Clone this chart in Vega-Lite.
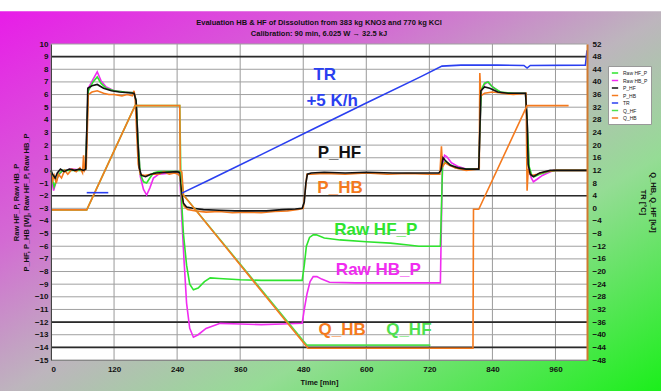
{
"$schema": "https://vega.github.io/schema/vega-lite/v6.json",
"width": 536, "height": 316,
"autosize": {"type": "none"},
"padding": {"left": 51, "top": 44, "right": 74, "bottom": 31},
"background": "white",
"config": {
  "view": {"stroke": null},
  "font": "Liberation Sans",
  "axis": {"grid": false, "ticks": false, "labelOverlap": false, "labelFont": "Liberation Sans", "labelFontWeight": "bold", "labelColor": "#111", "labelFontSize": 8, "titleFont": "Liberation Sans", "titleFontWeight": "bold", "titleFontSize": 7.5, "titleColor": "#111", "domainColor": "#555"}
},
"title": {"text": ["Evaluation HB & HF of Dissolution from 383 kg KNO3 and 770 kg KCl", "Calibration: 90 min, 6.025 W \u2192 32.5 kJ"], "fontSize": 7.5, "fontWeight": "bold", "font": "Liberation Sans", "color": "#111", "offset": -26, "lineHeight": 11, "zindex": 1},
"datasets": {
  "gx": [{"t":0},{"t":120},{"t":240},{"t":360},{"t":480},{"t":600},{"t":720},{"t":840},{"t":960}],
  "gy": [{"v":-15},{"v":-14},{"v":-13},{"v":-12},{"v":-11},{"v":-10},{"v":-9},{"v":-8},{"v":-7},{"v":-6},{"v":-5},{"v":-4},{"v":-3},{"v":-2},{"v":-1},{"v":0},{"v":1},{"v":2},{"v":3},{"v":4},{"v":5},{"v":6},{"v":7},{"v":8},{"v":9},{"v":10}],
  "dark": [{"v":9},{"v":-2},{"v":-12},{"v":-14}],
  "left": [
    {"s":"Raw HB_P","t":0,"v":0},{"s":"Raw HB_P","t":2,"v":-0.9},{"s":"Raw HB_P","t":5,"v":-1.6},{"s":"Raw HB_P","t":9,"v":-1.0},{"s":"Raw HB_P","t":14,"v":-0.4},{"s":"Raw HB_P","t":22,"v":0},{"s":"Raw HB_P","t":40,"v":0.1},{"s":"Raw HB_P","t":60,"v":0},{"s":"Raw HB_P","t":66,"v":0.1},{"s":"Raw HB_P","t":68,"v":3},{"s":"Raw HB_P","t":71,"v":6.5},{"s":"Raw HB_P","t":80,"v":7.2},{"s":"Raw HB_P","t":88,"v":7.8},{"s":"Raw HB_P","t":95,"v":7.1},{"s":"Raw HB_P","t":105,"v":6.6},{"s":"Raw HB_P","t":120,"v":6.3},{"s":"Raw HB_P","t":140,"v":6.2},{"s":"Raw HB_P","t":158,"v":6.15},{"s":"Raw HB_P","t":162,"v":5.5},{"s":"Raw HB_P","t":166,"v":2},{"s":"Raw HB_P","t":170,"v":-0.5},{"s":"Raw HB_P","t":176,"v":-1.5},{"s":"Raw HB_P","t":182,"v":-1.95},{"s":"Raw HB_P","t":188,"v":-1.4},{"s":"Raw HB_P","t":195,"v":-0.6},{"s":"Raw HB_P","t":205,"v":-0.3},{"s":"Raw HB_P","t":230,"v":-0.2},{"s":"Raw HB_P","t":245,"v":-0.2},{"s":"Raw HB_P","t":248,"v":-3},{"s":"Raw HB_P","t":253,"v":-7},{"s":"Raw HB_P","t":258,"v":-10.5},{"s":"Raw HB_P","t":264,"v":-12.5},{"s":"Raw HB_P","t":271,"v":-13.2},{"s":"Raw HB_P","t":280,"v":-13.0},{"s":"Raw HB_P","t":295,"v":-12.5},{"s":"Raw HB_P","t":322,"v":-12.1},{"s":"Raw HB_P","t":360,"v":-12.15},{"s":"Raw HB_P","t":400,"v":-12.2},{"s":"Raw HB_P","t":440,"v":-12.15},{"s":"Raw HB_P","t":478,"v":-12.1},{"s":"Raw HB_P","t":482,"v":-11},{"s":"Raw HB_P","t":487,"v":-9.8},{"s":"Raw HB_P","t":493,"v":-8.8},{"s":"Raw HB_P","t":499,"v":-8.4},{"s":"Raw HB_P","t":506,"v":-8.4},{"s":"Raw HB_P","t":515,"v":-8.6},{"s":"Raw HB_P","t":530,"v":-8.85},{"s":"Raw HB_P","t":580,"v":-8.9},{"s":"Raw HB_P","t":640,"v":-8.9},{"s":"Raw HB_P","t":700,"v":-8.9},{"s":"Raw HB_P","t":741,"v":-8.9},{"s":"Raw HB_P","t":743,"v":-4},{"s":"Raw HB_P","t":745,"v":0.5},{"s":"Raw HB_P","t":749,"v":1.2},{"s":"Raw HB_P","t":753,"v":1.1},{"s":"Raw HB_P","t":762,"v":0.6},{"s":"Raw HB_P","t":775,"v":0.3},{"s":"Raw HB_P","t":790,"v":0.1},{"s":"Raw HB_P","t":814,"v":0.1},{"s":"Raw HB_P","t":816,"v":3},{"s":"Raw HB_P","t":819,"v":6.3},{"s":"Raw HB_P","t":825,"v":6.8},{"s":"Raw HB_P","t":830,"v":7.0},{"s":"Raw HB_P","t":838,"v":6.7},{"s":"Raw HB_P","t":850,"v":6.3},{"s":"Raw HB_P","t":860,"v":6.1},{"s":"Raw HB_P","t":903,"v":6.1},{"s":"Raw HB_P","t":906,"v":4},{"s":"Raw HB_P","t":910,"v":0},{"s":"Raw HB_P","t":914,"v":-0.6},{"s":"Raw HB_P","t":918,"v":-0.9},{"s":"Raw HB_P","t":925,"v":-0.7},{"s":"Raw HB_P","t":935,"v":-0.4},{"s":"Raw HB_P","t":945,"v":-0.2},{"s":"Raw HB_P","t":956,"v":0},{"s":"Raw HB_P","t":1020,"v":0},

    {"s":"Raw HF_P","t":0,"v":0},{"s":"Raw HF_P","t":3,"v":-0.8},{"s":"Raw HF_P","t":6,"v":-1.3},{"s":"Raw HF_P","t":10,"v":-0.8},{"s":"Raw HF_P","t":15,"v":-0.3},{"s":"Raw HF_P","t":22,"v":0},{"s":"Raw HF_P","t":60,"v":0},{"s":"Raw HF_P","t":66,"v":0.1},{"s":"Raw HF_P","t":68,"v":3},{"s":"Raw HF_P","t":71,"v":6.3},{"s":"Raw HF_P","t":80,"v":7.0},{"s":"Raw HF_P","t":88,"v":7.4},{"s":"Raw HF_P","t":95,"v":6.9},{"s":"Raw HF_P","t":105,"v":6.5},{"s":"Raw HF_P","t":120,"v":6.3},{"s":"Raw HF_P","t":140,"v":6.2},{"s":"Raw HF_P","t":158,"v":6.15},{"s":"Raw HF_P","t":162,"v":5.5},{"s":"Raw HF_P","t":166,"v":2},{"s":"Raw HF_P","t":170,"v":-0.3},{"s":"Raw HF_P","t":176,"v":-0.9},{"s":"Raw HF_P","t":182,"v":-1.0},{"s":"Raw HF_P","t":188,"v":-0.6},{"s":"Raw HF_P","t":195,"v":-0.2},{"s":"Raw HF_P","t":205,"v":-0.1},{"s":"Raw HF_P","t":245,"v":-0.1},{"s":"Raw HF_P","t":248,"v":-2},{"s":"Raw HF_P","t":252,"v":-5},{"s":"Raw HF_P","t":258,"v":-7.5},{"s":"Raw HF_P","t":264,"v":-9.0},{"s":"Raw HF_P","t":271,"v":-9.45},{"s":"Raw HF_P","t":280,"v":-9.3},{"s":"Raw HF_P","t":292,"v":-8.8},{"s":"Raw HF_P","t":303,"v":-8.5},{"s":"Raw HF_P","t":320,"v":-8.55},{"s":"Raw HF_P","t":360,"v":-8.65},{"s":"Raw HF_P","t":400,"v":-8.7},{"s":"Raw HF_P","t":478,"v":-8.7},{"s":"Raw HF_P","t":482,"v":-7.5},{"s":"Raw HF_P","t":486,"v":-6},{"s":"Raw HF_P","t":492,"v":-5.3},{"s":"Raw HF_P","t":499,"v":-5.1},{"s":"Raw HF_P","t":505,"v":-5.1},{"s":"Raw HF_P","t":520,"v":-5.35},{"s":"Raw HF_P","t":550,"v":-5.5},{"s":"Raw HF_P","t":600,"v":-5.65},{"s":"Raw HF_P","t":646,"v":-5.75},{"s":"Raw HF_P","t":680,"v":-5.9},{"s":"Raw HF_P","t":700,"v":-6.0},{"s":"Raw HF_P","t":741,"v":-6.0},{"s":"Raw HF_P","t":743,"v":-3},{"s":"Raw HF_P","t":745,"v":0.3},{"s":"Raw HF_P","t":750,"v":0.7},{"s":"Raw HF_P","t":758,"v":0.5},{"s":"Raw HF_P","t":770,"v":0.2},{"s":"Raw HF_P","t":790,"v":0.1},{"s":"Raw HF_P","t":814,"v":0.1},{"s":"Raw HF_P","t":816,"v":3},{"s":"Raw HF_P","t":819,"v":6.4},{"s":"Raw HF_P","t":825,"v":6.9},{"s":"Raw HF_P","t":832,"v":7.0},{"s":"Raw HF_P","t":840,"v":6.6},{"s":"Raw HF_P","t":855,"v":6.2},{"s":"Raw HF_P","t":880,"v":6.1},{"s":"Raw HF_P","t":903,"v":6.1},{"s":"Raw HF_P","t":906,"v":4},{"s":"Raw HF_P","t":910,"v":0.3},{"s":"Raw HF_P","t":915,"v":-0.4},{"s":"Raw HF_P","t":920,"v":-0.5},{"s":"Raw HF_P","t":930,"v":-0.3},{"s":"Raw HF_P","t":945,"v":-0.1},{"s":"Raw HF_P","t":960,"v":0},{"s":"Raw HF_P","t":1020,"v":0},

    {"s":"P_HB","t":0,"v":-0.2},{"s":"P_HB","t":3,"v":-0.8},{"s":"P_HB","t":6,"v":-0.4},{"s":"P_HB","t":10,"v":-1.0},{"s":"P_HB","t":14,"v":-0.3},{"s":"P_HB","t":20,"v":-0.6},{"s":"P_HB","t":26,"v":0},{"s":"P_HB","t":32,"v":-0.3},{"s":"P_HB","t":40,"v":0.1},{"s":"P_HB","t":48,"v":-0.1},{"s":"P_HB","t":55,"v":0.2},{"s":"P_HB","t":60,"v":-0.2},{"s":"P_HB","t":62,"v":1.2},{"s":"P_HB","t":64,"v":0},{"s":"P_HB","t":67,"v":0.2},{"s":"P_HB","t":69,"v":3},{"s":"P_HB","t":71,"v":6.0},{"s":"P_HB","t":78,"v":6.2},{"s":"P_HB","t":88,"v":6.3},{"s":"P_HB","t":100,"v":6.1},{"s":"P_HB","t":110,"v":6.0},{"s":"P_HB","t":120,"v":6.0},{"s":"P_HB","t":135,"v":5.9},{"s":"P_HB","t":145,"v":6.0},{"s":"P_HB","t":155,"v":5.9},{"s":"P_HB","t":158,"v":6.3},{"s":"P_HB","t":160,"v":5.8},{"s":"P_HB","t":163,"v":3},{"s":"P_HB","t":166,"v":0.5},{"s":"P_HB","t":170,"v":-0.3},{"s":"P_HB","t":178,"v":-0.4},{"s":"P_HB","t":190,"v":-0.3},{"s":"P_HB","t":205,"v":-0.3},{"s":"P_HB","t":215,"v":-0.1},{"s":"P_HB","t":225,"v":-0.3},{"s":"P_HB","t":235,"v":-0.2},{"s":"P_HB","t":242,"v":-0.3},{"s":"P_HB","t":246,"v":-0.5},{"s":"P_HB","t":249,"v":-2},{"s":"P_HB","t":253,"v":-2.8},{"s":"P_HB","t":260,"v":-3.1},{"s":"P_HB","t":275,"v":-3.2},{"s":"P_HB","t":295,"v":-3.3},{"s":"P_HB","t":320,"v":-3.25},{"s":"P_HB","t":345,"v":-3.35},{"s":"P_HB","t":370,"v":-3.3},{"s":"P_HB","t":400,"v":-3.35},{"s":"P_HB","t":425,"v":-3.25},{"s":"P_HB","t":450,"v":-3.2},{"s":"P_HB","t":470,"v":-3.1},{"s":"P_HB","t":480,"v":-3.0},{"s":"P_HB","t":484,"v":-1.5},{"s":"P_HB","t":487,"v":-0.3},{"s":"P_HB","t":495,"v":-0.3},{"s":"P_HB","t":520,"v":-0.25},{"s":"P_HB","t":560,"v":-0.3},{"s":"P_HB","t":600,"v":-0.2},{"s":"P_HB","t":640,"v":-0.3},{"s":"P_HB","t":680,"v":-0.25},{"s":"P_HB","t":720,"v":-0.3},{"s":"P_HB","t":740,"v":-0.3},{"s":"P_HB","t":743,"v":1.9},{"s":"P_HB","t":745,"v":0.3},{"s":"P_HB","t":750,"v":0.6},{"s":"P_HB","t":758,"v":0.4},{"s":"P_HB","t":770,"v":0.2},{"s":"P_HB","t":790,"v":0.0},{"s":"P_HB","t":810,"v":0.1},{"s":"P_HB","t":815,"v":0.2},{"s":"P_HB","t":816,"v":7.7},{"s":"P_HB","t":818,"v":5.9},{"s":"P_HB","t":825,"v":6.1},{"s":"P_HB","t":840,"v":6.2},{"s":"P_HB","t":860,"v":6.1},{"s":"P_HB","t":880,"v":6.0},{"s":"P_HB","t":904,"v":6.1},{"s":"P_HB","t":906,"v":-1.6},{"s":"P_HB","t":908,"v":0},{"s":"P_HB","t":914,"v":-0.4},{"s":"P_HB","t":925,"v":-0.3},{"s":"P_HB","t":940,"v":-0.1},{"s":"P_HB","t":960,"v":0},{"s":"P_HB","t":1020,"v":0},

    {"s":"P_HF","t":0,"v":0},{"s":"P_HF","t":3,"v":-0.3},{"s":"P_HF","t":8,"v":-0.6},{"s":"P_HF","t":12,"v":-0.2},{"s":"P_HF","t":18,"v":0.1},{"s":"P_HF","t":25,"v":-0.1},{"s":"P_HF","t":35,"v":0.1},{"s":"P_HF","t":45,"v":0},{"s":"P_HF","t":55,"v":0.1},{"s":"P_HF","t":62,"v":0},{"s":"P_HF","t":66,"v":0.1},{"s":"P_HF","t":68,"v":3},{"s":"P_HF","t":70,"v":6.5},{"s":"P_HF","t":78,"v":6.7},{"s":"P_HF","t":88,"v":6.8},{"s":"P_HF","t":100,"v":6.5},{"s":"P_HF","t":115,"v":6.3},{"s":"P_HF","t":130,"v":6.2},{"s":"P_HF","t":158,"v":6.1},{"s":"P_HF","t":162,"v":5.5},{"s":"P_HF","t":165,"v":2.5},{"s":"P_HF","t":168,"v":0.2},{"s":"P_HF","t":172,"v":-0.4},{"s":"P_HF","t":180,"v":-0.5},{"s":"P_HF","t":190,"v":-0.3},{"s":"P_HF","t":200,"v":-0.2},{"s":"P_HF","t":240,"v":-0.1},{"s":"P_HF","t":246,"v":-0.2},{"s":"P_HF","t":248,"v":-1.5},{"s":"P_HF","t":252,"v":-2.6},{"s":"P_HF","t":258,"v":-2.9},{"s":"P_HF","t":270,"v":-3.0},{"s":"P_HF","t":290,"v":-3.1},{"s":"P_HF","t":320,"v":-3.15},{"s":"P_HF","t":350,"v":-3.2},{"s":"P_HF","t":410,"v":-3.2},{"s":"P_HF","t":440,"v":-3.1},{"s":"P_HF","t":465,"v":-3.05},{"s":"P_HF","t":478,"v":-3.0},{"s":"P_HF","t":482,"v":-2.5},{"s":"P_HF","t":485,"v":-1.0},{"s":"P_HF","t":488,"v":-0.3},{"s":"P_HF","t":495,"v":-0.2},{"s":"P_HF","t":520,"v":-0.15},{"s":"P_HF","t":560,"v":-0.2},{"s":"P_HF","t":600,"v":-0.15},{"s":"P_HF","t":650,"v":-0.2},{"s":"P_HF","t":738,"v":-0.2},{"s":"P_HF","t":742,"v":0},{"s":"P_HF","t":746,"v":1.0},{"s":"P_HF","t":750,"v":0.8},{"s":"P_HF","t":760,"v":0.4},{"s":"P_HF","t":775,"v":0.2},{"s":"P_HF","t":790,"v":0.1},{"s":"P_HF","t":814,"v":0.1},{"s":"P_HF","t":816,"v":3},{"s":"P_HF","t":818,"v":6.3},{"s":"P_HF","t":825,"v":6.6},{"s":"P_HF","t":835,"v":6.5},{"s":"P_HF","t":850,"v":6.2},{"s":"P_HF","t":870,"v":6.1},{"s":"P_HF","t":903,"v":6.1},{"s":"P_HF","t":906,"v":4},{"s":"P_HF","t":908,"v":0.5},{"s":"P_HF","t":912,"v":-0.3},{"s":"P_HF","t":918,"v":-0.5},{"s":"P_HF","t":930,"v":-0.2},{"s":"P_HF","t":950,"v":0},{"s":"P_HF","t":1020,"v":0}
  ],
  "right": [
    {"s":"Q_HF","g":"a","t":0,"v":-0.5},{"s":"Q_HF","g":"a","t":68,"v":-0.5},{"s":"Q_HF","g":"a","t":160,"v":32.5},{"s":"Q_HF","g":"a","t":245,"v":32.5},{"s":"Q_HF","g":"a","t":247,"v":12},{"s":"Q_HF","g":"a","t":252,"v":4.2},{"s":"Q_HF","g":"a","t":487,"v":-43.3},{"s":"Q_HF","g":"a","t":722,"v":-43.3},
    {"s":"Q_HB","g":"a","t":0,"v":-0.5},{"s":"Q_HB","g":"a","t":68,"v":-0.5},{"s":"Q_HB","g":"a","t":160,"v":32.5},{"s":"Q_HB","g":"a","t":245,"v":32.5},{"s":"Q_HB","g":"a","t":246,"v":12},{"s":"Q_HB","g":"a","t":249,"v":11.5},{"s":"Q_HB","g":"a","t":252,"v":4.2},{"s":"Q_HB","g":"a","t":489,"v":-44.3},{"s":"Q_HB","g":"a","t":803,"v":-44.3},{"s":"Q_HB","g":"a","t":804,"v":-0.3},{"s":"Q_HB","g":"a","t":814,"v":-0.3},{"s":"Q_HB","g":"a","t":906,"v":32.5},{"s":"Q_HB","g":"a","t":985,"v":32.5},
    {"s":"TR","g":"a","t":68,"v":4.95},{"s":"TR","g":"a","t":109,"v":4.95},
    {"s":"TR","g":"b","t":249,"v":4.8},{"s":"TR","g":"b","t":300,"v":8.9},{"s":"TR","g":"b","t":400,"v":17.0},{"s":"TR","g":"b","t":500,"v":25.2},{"s":"TR","g":"b","t":600,"v":33.3},{"s":"TR","g":"b","t":703,"v":41.6},{"s":"TR","g":"b","t":744,"v":45.0},{"s":"TR","g":"b","t":780,"v":45.3},{"s":"TR","g":"b","t":850,"v":45.3},{"s":"TR","g":"b","t":900,"v":45.2},{"s":"TR","g":"b","t":906,"v":44.4},{"s":"TR","g":"b","t":912,"v":45.2},{"s":"TR","g":"b","t":1017,"v":45.3},{"s":"TR","g":"b","t":1020,"v":50}
  ],
  "notes": [
    {"s":"TR","txt":"TR","t":521,"v":7.55},
    {"s":"TR","txt":"+5 K/h","t":535,"v":5.49},
    {"s":"P_HF","txt":"P_HF","t":549,"v":1.38},
    {"s":"P_HB","txt":"P_HB","t":550,"v":-1.43},
    {"s":"Raw HF_P","txt":"Raw HF_P","t":618,"v":-4.68},
    {"s":"Raw HB_P","txt":"Raw HB_P","t":623,"v":-7.88},
    {"s":"Q_HB","txt":"Q_HB","t":554,"v":-12.6},
    {"s":"Q_HF","txt":"Q_HF","t":681,"v":-12.6}
  ]
},
"layer": [
  {"layer": [
    {"data": {"values": [{}]},
     "mark": {"type": "rect", "fill": {"gradient": "linear", "x1": 0, "y1": 0, "x2": 1, "y2": 1, "stops": [{"offset": 0, "color": "#e81ce8"}, {"offset": 0.3, "color": "#d36ad3"}, {"offset": 0.5, "color": "#bdb5bd"}, {"offset": 0.68, "color": "#95dc95"}, {"offset": 1, "color": "#14f014"}]}},
     "encoding": {
       "x": {"datum": -100, "type": "quantitative", "scale": {"domain": [0, 1020], "nice": false}, "axis": null},
       "x2": {"datum": 1180},
       "y": {"datum": 12.6, "type": "quantitative", "scale": {"domain": [-15, 10], "nice": false}, "axis": null},
       "y2": {"datum": -18}
     }},
    {"data": {"values": [{}]},
     "mark": {"type": "rect", "fill": "white"},
     "encoding": {
       "x": {"datum": 0, "type": "quantitative", "scale": {"domain": [0, 1020], "nice": false}, "axis": null},
       "x2": {"datum": 1020},
       "y": {"datum": 10, "type": "quantitative", "scale": {"domain": [-15, 10], "nice": false}, "axis": null},
       "y2": {"datum": -15}
     }},
    {"data": {"name": "gx"},
     "mark": {"type": "rule", "color": "#9a9a9a", "strokeWidth": 1},
     "encoding": {"x": {"field": "t", "type": "quantitative", "scale": {"domain": [0, 1020], "nice": false}, "axis": null}}},
    {"data": {"name": "gy"},
     "mark": {"type": "rule", "color": "#a0a0a0", "strokeWidth": 1},
     "encoding": {"y": {"field": "v", "type": "quantitative", "scale": {"domain": [-15, 10], "nice": false}, "axis": null}}},
    {"data": {"name": "dark"},
     "mark": {"type": "rule", "color": "#2a2a2a", "strokeWidth": 1.6},
     "encoding": {"y": {"field": "v", "type": "quantitative", "scale": {"domain": [-15, 10], "nice": false}, "axis": null}}},
    {"data": {"name": "left"},
     "mark": {"type": "line", "strokeWidth": 1.6},
     "encoding": {
       "x": {"field": "t", "type": "quantitative", "scale": {"domain": [0, 1020], "nice": false},
             "axis": {"zindex": 1, "labelOverlap": false, "values": [0,120,240,360,480,600,720,840,960], "title": "Time [min]", "labelPadding": 5, "titlePadding": 5, "domainColor": "#888"}},
       "y": {"field": "v", "type": "quantitative", "scale": {"domain": [-15, 10], "nice": false},
             "axis": {"zindex": 1, "labelOverlap": false, "orient": "left", "values": [-15,-14,-13,-12,-11,-10,-9,-8,-7,-6,-5,-4,-3,-2,-1,0,1,2,3,4,5,6,7,8,9,10], "labelPadding": 3, "title": ["Raw HF_P, Raw HB_P", "P_HF, P_HB [W], Raw HF_P, Raw HB_P"], "titlePadding": 4, "domainColor": "#444"}},
       "color": {"field": "s", "type": "nominal",
         "scale": {"domain": ["Raw HF_P", "Raw HB_P", "P_HF", "P_HB", "TR", "Q_HF", "Q_HB"], "range": ["#2ee42e", "#f02cf0", "#111111", "#f47a1e", "#2a3ff0", "#4fe04f", "#f47a1e"]},
         "legend": {"orient": "none", "legendX": 557, "legendY": 22, "title": null, "symbolType": "stroke", "symbolSize": 40, "symbolStrokeWidth": 1.5, "labelFontSize": 5, "labelFont": "Liberation Sans", "labelColor": "#222", "rowPadding": 0.5, "padding": 3, "fillColor": "white", "strokeColor": "#999", "zindex": 1, "labelLimit": 60}},
       "detail": {"field": "s"}
     }},
    {"data": {"name": "notes"},
     "mark": {"type": "text", "fontSize": 17, "fontWeight": "bold", "font": "Liberation Sans", "align": "center", "baseline": "middle"},
     "encoding": {
       "x": {"field": "t", "type": "quantitative", "scale": {"domain": [0, 1020], "nice": false}, "axis": null},
       "y": {"field": "v", "type": "quantitative", "scale": {"domain": [-15, 10], "nice": false}, "axis": null},
       "text": {"field": "txt"},
       "color": {"field": "s", "type": "nominal", "scale": {"domain": ["Raw HF_P", "Raw HB_P", "P_HF", "P_HB", "TR", "Q_HF", "Q_HB"], "range": ["#2ee42e", "#f02cf0", "#111111", "#f47a1e", "#2a3ff0", "#4fe04f", "#f47a1e"]}}
     }}
  ],
  "resolve": {"axis": {"x": "independent", "y": "independent"}}},
  {"layer": [
    {"data": {"name": "right"},
     "mark": {"type": "line", "strokeWidth": 1.6},
     "encoding": {
       "x": {"field": "t", "type": "quantitative", "scale": {"domain": [0, 1020], "nice": false}, "axis": null},
       "y": {"field": "v", "type": "quantitative", "scale": {"domain": [-48, 52], "nice": false},
             "axis": {"zindex": 1, "labelOverlap": false, "orient": "right", "values": [-48,-44,-40,-36,-32,-28,-24,-20,-16,-12,-8,-4,0,4,8,12,16,20,24,28,32,36,40,44,48,52], "labelPadding": 5, "title": ["Q_HB, Q_HF [kJ]", "TR [\u00b0C]"], "titlePadding": 33, "domainColor": "#d07a30", "domainWidth": 2}},
       "color": {"field": "s", "type": "nominal", "scale": {"domain": ["Raw HF_P", "Raw HB_P", "P_HF", "P_HB", "TR", "Q_HF", "Q_HB"], "range": ["#2ee42e", "#f02cf0", "#111111", "#f47a1e", "#2a3ff0", "#4fe04f", "#f47a1e"]}},
       "detail": {"field": "g"}
     }}
  ]}
],
"resolve": {"scale": {"y": "independent"}, "axis": {"x": "independent", "y": "independent"}}
}
